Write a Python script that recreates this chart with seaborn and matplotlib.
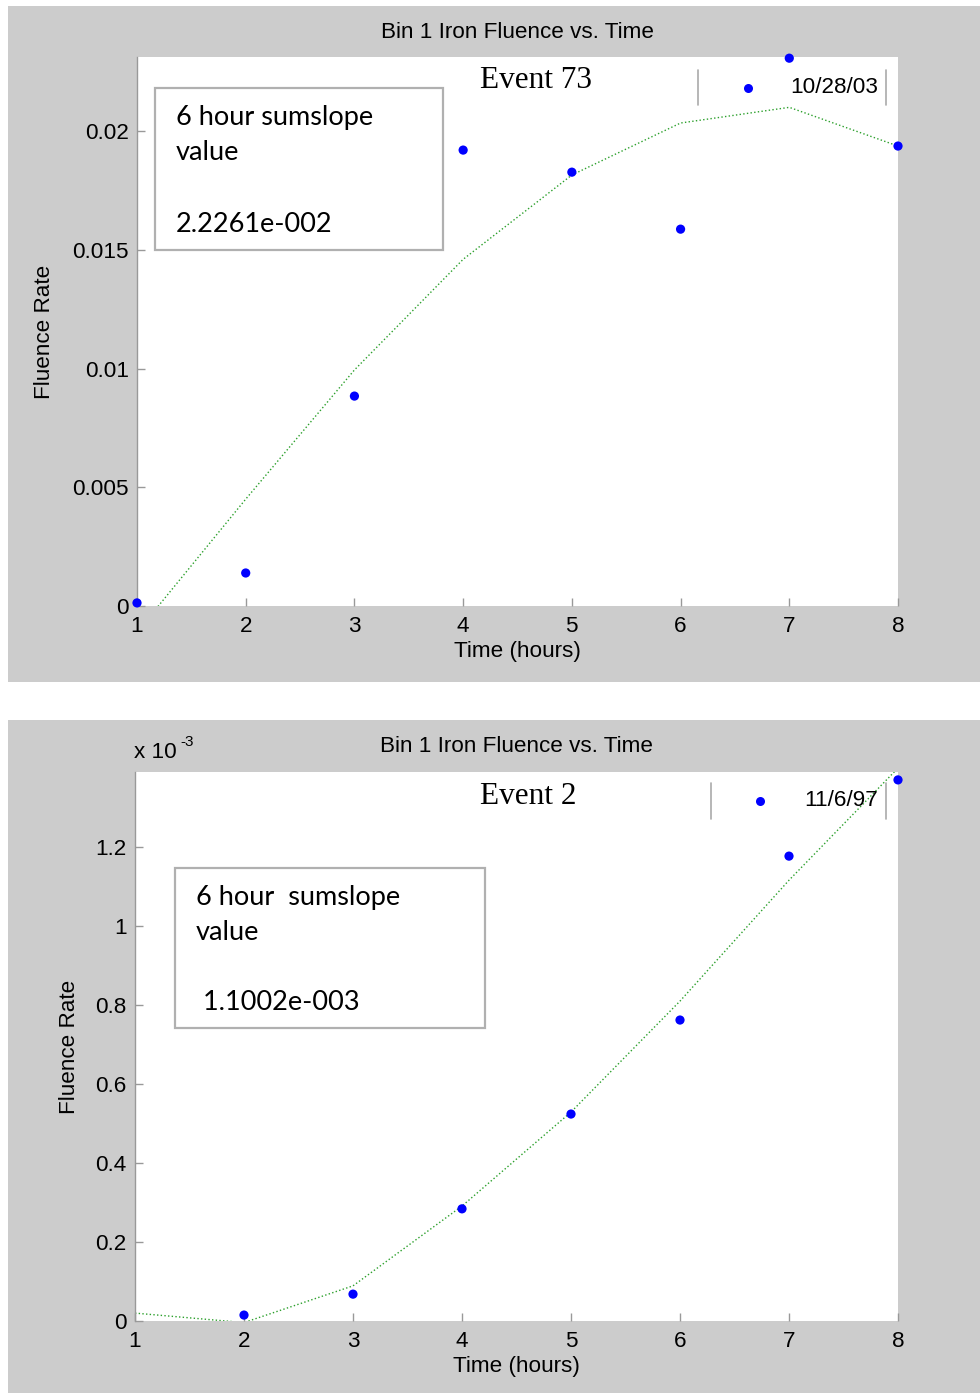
import numpy as np
import pandas as pd
import matplotlib
matplotlib.use("Agg")
import matplotlib.pyplot as plt
import seaborn as sns
from matplotlib.patches import Rectangle
from matplotlib.lines import Line2D
from matplotlib.ticker import FuncFormatter

# ---- data ----
hours = [1, 2, 3, 4, 5, 6, 7, 8]

ev73_points = [0.00013, 0.00139, 0.00884, 0.0192, 0.01827, 0.01587, 0.02307, 0.01937]
ev73_fit = [-0.0011, 0.0045, 0.00994, 0.0146, 0.01815, 0.02034, 0.0210, 0.01937]

ev2_points = [np.nan, 0.015e-3, 0.068e-3, 0.284e-3, 0.524e-3, 0.762e-3, 1.177e-3, 1.37e-3]
ev2_fit = [0.02e-3, -0.004e-3, 0.089e-3, 0.291e-3, 0.529e-3, 0.81e-3, 1.116e-3, 1.40e-3]

title = "Bin 1 Iron Fluence vs. Time"
xlabel = "Time (hours)"
ylabel = "Fluence Rate"
events = ["Event 73", "Event 2"]
legend_labels = ["10/28/03", "11/6/97"]
box_lines = [["6 hour sumslope", "value", "2.2261e-002"],
             ["6 hour  sumslope", "value", " 1.1002e-003"]]

sns.set_theme(style="white")
plt.rcParams['font.family'] = ['Liberation Sans', 'DejaVu Sans']

W, H = 980, 1393
fig = plt.figure(figsize=(W / 100, H / 100), dpi=100)
fig.patch.set_facecolor("white")

GREY = "#cccccc"

def fx(px):
    return px / W

def fy(py):
    return 1 - py / H

# panel backgrounds
fig.add_artist(Rectangle((fx(8), fy(682)), fx(980 - 8), (682 - 6) / H,
                         transform=fig.transFigure, facecolor=GREY, edgecolor="none", zorder=-10))
fig.add_artist(Rectangle((fx(8), fy(1393)), fx(980 - 8), (1393 - 720) / H,
                         transform=fig.transFigure, facecolor=GREY, edgecolor="none", zorder=-10))

panels = [
    dict(ax=(137, 57, 898, 606), pts=ev73_points, fit=ev73_fit, ylim=(0, 0.02312),
         yticks=[0, 0.005, 0.01, 0.015, 0.02], scale=1.0,
         leg=(698, 886, 70, 105, 748, 790), ev=(480, 81),
         box=(155, 88, 443, 250), lines=[(176, 117), (176, 153), (176, 224)], ylab_x=55,
         title_y=32),
    dict(ax=(135, 772, 898, 1321), pts=ev2_points, fit=ev2_fit, ylim=(0, 1.39e-3),
         yticks=[0, 0.2e-3, 0.4e-3, 0.6e-3, 0.8e-3, 1.0e-3, 1.2e-3], scale=1e3,
         leg=(711, 886, 783, 819, 760, 804), ev=(480, 797),
         box=(175, 868, 485, 1028), lines=[(196, 897), (196, 932), (196, 1003)], ylab_x=80,
         title_y=747),
]

FS = 16.2
for i, p in enumerate(panels):
    l, t, r, b = p["ax"]
    ax = fig.add_axes([fx(l), fy(b), fx(r - l), (b - t) / H])
    ax.set_facecolor("white")
    df = pd.DataFrame({"hours": hours, "pts": p["pts"], "fit": p["fit"]})
    sns.lineplot(data=df, x="hours", y="fit", ax=ax, color="#2ca02c", linestyle=":",
                 linewidth=1.0, zorder=2)
    sns.scatterplot(data=df, x="hours", y="pts", ax=ax, color="#0000ff", s=44,
                    edgecolor="none", zorder=3, clip_on=False)
    ax.set_xlim(1, 8)
    ax.set_ylim(*p["ylim"])
    ax.set_xticks(hours)
    ax.set_yticks(p["yticks"])
    sc = p["scale"]
    ax.yaxis.set_major_formatter(FuncFormatter(lambda v, pos, sc=sc: "%g" % round(v * sc, 6)))
    for s in ["top", "right", "bottom"]:
        ax.spines[s].set_visible(False)
    ax.spines["left"].set_color("#999999")
    ax.spines["left"].set_linewidth(1.0)
    ax.tick_params(axis="both", direction="in", length=6, color="#999999", width=1,
                   labelsize=FS, labelcolor="black", pad=7, left=True, bottom=True)
    ax.tick_params(axis="y", pad=6)
    ax.set_xlabel(xlabel, fontsize=FS, color="black")
    ax.xaxis.set_label_coords(0.5, -(35 / (b - t)))
    ax.set_ylabel(ylabel, fontsize=FS, color="black")
    ax.yaxis.set_label_coords(-((l - p["ylab_x"]) / (r - l)), 0.5)

    # title
    fig.text(fx((l + r) / 2), fy(p["title_y"]), title, fontsize=FS, ha="center",
             va="center", color="black")

    # legend (manual)
    x0, x1, y0, y1, mx, tx = p["leg"]
    for xx in (x0, x1):
        fig.add_artist(Line2D([fx(xx), fx(xx)], [fy(y0), fy(y1)], transform=fig.transFigure,
                              color="#aaaaaa", linewidth=1.2))
    fig.add_artist(Line2D([fx(mx)], [fy((y0 + y1) / 2)], transform=fig.transFigure,
                          marker="o", markersize=6.5, color="#0000ff", markeredgewidth=0,
                          linestyle="none"))
    fig.text(fx(tx), fy((y0 + y1) / 2), legend_labels[i], fontsize=FS, ha="left",
             va="center", color="black")

    # event label
    ex, ey = p["ev"]
    fig.text(fx(ex), fy(ey), events[i], fontsize=22.5, ha="left", va="center",
             family=["Liberation Serif", "DejaVu Serif"], color="black")

    # text box
    bl, bt, br, bb = p["box"]
    fig.add_artist(Rectangle((fx(bl), fy(bb)), fx(br - bl), (bb - bt) / H,
                             transform=fig.transFigure, facecolor="white",
                             edgecolor="#b0b0b0", linewidth=1.6, zorder=5))
    for txt, (lx, ly) in zip(box_lines[i], p["lines"]):
        fig.text(fx(lx), fy(ly), txt, fontsize=19.5, ha="left", va="center",
                 family=["Lato", "DejaVu Sans"], color="black", zorder=6)

# x 10^-3 multiplier
fig.text(fx(134), fy(753), "x 10", fontsize=FS, ha="left", va="center", color="black")
fig.text(fx(180), fy(742), "-3", fontsize=11, ha="left", va="center", color="black")

fig.savefig("out.png", dpi=100)
